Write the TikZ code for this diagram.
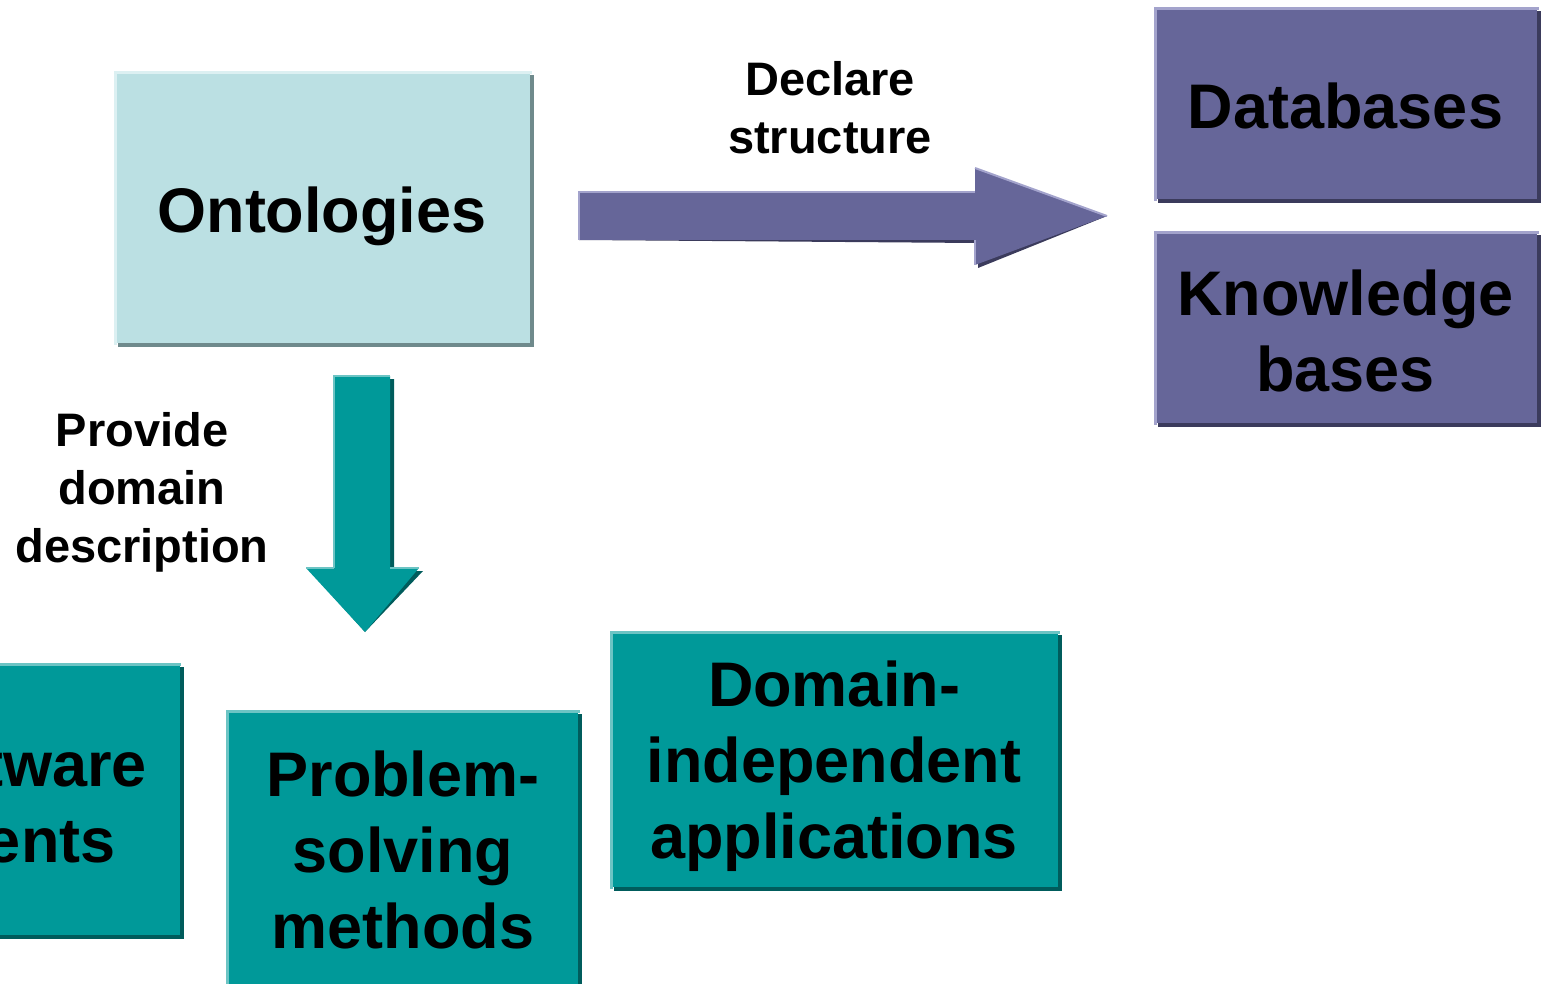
\documentclass[tikz,border=0pt]{standalone}
\usepackage{fontspec}
\setmainfont{Liberation Sans}
\usetikzlibrary{shadows}

\definecolor{ontoFill}{HTML}{BBE0E3}
\definecolor{ontoLight}{HTML}{DCF0F2}
\definecolor{ontoDark}{HTML}{6F8A8C}
\definecolor{purpFill}{HTML}{666699}
\definecolor{purpLight}{HTML}{A3A3CC}
\definecolor{purpDark}{HTML}{3B3B5C}
\definecolor{tealFill}{HTML}{009999}
\definecolor{tealLight}{HTML}{6CC4C4}
\definecolor{tealDark}{HTML}{005C5C}

\newcommand\bigtext{\fontsize{31.5}{38}\selectfont\bfseries}
\newcommand\smalltext{\fontsize{23.5}{29}\selectfont\bfseries}

% light top/left bevel of a box
\newcommand\bevelbox[2]{%
  \draw[#2, line width=1.5pt, line cap=rect]
    ([xshift=0.75pt]#1.south west) -- ([shift={(0.75pt,-0.75pt)}]#1.north west)
    -- ([yshift=-0.75pt]#1.north east);}

\tikzset{
  box/.style={rectangle, inner sep=0pt},
  boxtext/.style={font=\bigtext, align=center, inner sep=0pt},
  ontobox/.style={box, fill=ontoFill,
    general shadow={fill=ontoDark, shadow xshift=2pt, shadow yshift=-2pt}},
  purpbox/.style={box, fill=purpFill,
    general shadow={fill=purpDark, shadow xshift=2pt, shadow yshift=-2pt}},
  tealbox/.style={box, fill=tealFill,
    general shadow={fill=tealDark, shadow xshift=2pt, shadow yshift=-2pt}},
  lbl/.style={align=center, font=\smalltext, inner sep=0pt},
}

\begin{document}
\begin{tikzpicture}[x=0.5pt, y=-0.5pt]
\useasboundingbox (0,0) rectangle (1541,984);

% boxes, each with its caption as a centred label
\node[ontobox, minimum width=208pt, minimum height=136pt,
  label={[boxtext, name=ontoText, yshift=-4.5pt]center:Ontologies}] (onto) at (322,207) {};
\bevelbox{onto}{ontoLight}

\node[purpbox, minimum width=191.5pt, minimum height=96pt,
  label={[boxtext, name=dbText, yshift=-1.5pt]center:Databases}] (db) at (1345.5,103) {};
\bevelbox{db}{purpLight}

\node[purpbox, minimum width=191.5pt, minimum height=96pt,
  label={[boxtext, name=kbText, yshift=-2pt]center:Knowledge\\bases}] (kb) at (1345.5,327) {};
\bevelbox{kb}{purpLight}

\node[tealbox, minimum width=176.5pt, minimum height=136pt,
  label={[boxtext, name=saText, xshift=5.5pt, yshift=-4.5pt]center:Software\\agents}] (sa) at (3,799) {};
\bevelbox{sa}{tealLight}

\node[tealbox, minimum width=176pt, minimum height=140pt,
  label={[boxtext, name=psmText, xshift=0.5pt, yshift=0pt]center:Problem-\\solving\\methods}] (psm) at (402,850) {};
\bevelbox{psm}{tealLight}

\node[tealbox, minimum width=224pt, minimum height=128pt,
  label={[boxtext, name=diaText, yshift=-3.5pt]center:Domain-\\independent\\applications}] (dia) at (834,759) {};
\bevelbox{dia}{tealLight}

% block arrow: ontologies -> databases / knowledge bases
\coordinate (declTail) at (579,216);
\coordinate (declTip) at (1107,216);
\fill[purpDark, xshift=1.5pt, yshift=-1.5pt]
  ([yshift=12pt]declTail) -- (975,192) -- (975,168) -- (declTip) -- (975,265) -- (975,240) -- ([yshift=-12pt]declTail) -- cycle;
\fill[purpFill]
  ([yshift=12pt]declTail) -- (975,192) -- (975,168) -- (declTip) -- (975,265) -- (975,240) -- ([yshift=-12pt]declTail) -- cycle;
\draw[purpLight, line width=1pt] ([yshift=-12pt]declTail) -- ([yshift=12pt]declTail) -- (975,192);
\draw[purpLight, line width=1pt] (975,240) -- (975,265);
\draw[purpLight, line width=1pt] (975,168) -- (declTip);

% block arrow: ontologies -> problem-solving methods
\coordinate (downTip) at (365,632);
\fill[tealDark, xshift=2pt, yshift=-1.5pt]
  (334,376) -- (390,376) -- (390,568) -- (419,568) -- (downTip) -- (306,568) -- (334,568) -- cycle;
\fill[tealFill]
  (334,376) -- (390,376) -- (390,568) -- (419,568) -- (downTip) -- (306,568) -- (334,568) -- cycle;
\draw[tealLight, line width=1pt] (334,568) -- (334,376) -- (390,376);
\draw[tealLight, line width=1pt] (306,568) -- (334,568);
\draw[tealLight, line width=1pt] (390,568) -- (419,568);

% arrow labels
\node[lbl] (declare) at (830,108) {Declare\\structure};
\node[lbl] (provide) at (142,492) {Provide\\domain\\description};
\end{tikzpicture}
\end{document}
